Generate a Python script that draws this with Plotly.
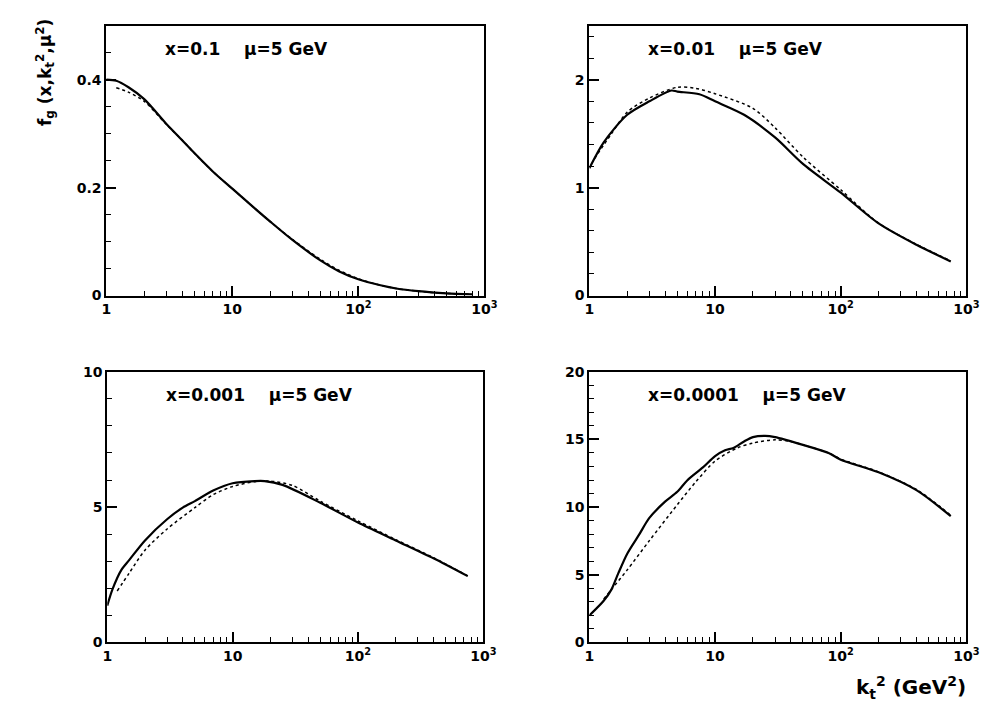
import plotly.graph_objects as go

# ---------------- data ----------------
panel_labels = ["x=0.1", "x=0.01", "x=0.001", "x=0.0001"]
scale_label = "μ=5 GeV"

k1_solid = [1, 1.2, 1.5, 2, 3, 4, 5, 7, 10, 15, 20, 30, 50, 70, 100, 150, 200, 300, 500, 800]
f1_solid = [0.400, 0.398, 0.386, 0.364, 0.318, 0.288, 0.264, 0.230, 0.198, 0.162, 0.137, 0.103, 0.065, 0.045, 0.030, 0.019, 0.013, 0.008, 0.004, 0.002]
k1_dot = [1.2, 1.5, 2, 3, 4, 5, 7, 10, 15, 20, 30, 50, 70, 100, 150, 200, 300, 500, 800]
f1_dot = [0.385, 0.377, 0.360, 0.317, 0.288, 0.264, 0.230, 0.198, 0.162, 0.137, 0.104, 0.067, 0.047, 0.031, 0.019, 0.013, 0.008, 0.004, 0.002]

k2_solid = [1, 1.3, 2, 3, 4.5, 5, 7.5, 10, 17, 30, 50, 100, 200, 400, 750]
f2_solid = [1.18, 1.42, 1.675, 1.80, 1.90, 1.89, 1.865, 1.80, 1.675, 1.465, 1.22, 0.953, 0.668, 0.47, 0.316]
k2_dot = [1.1, 1.5, 2, 3, 5, 7, 10, 20, 30, 50, 100, 200, 400, 750]
f2_dot = [1.27, 1.50, 1.70, 1.83, 1.93, 1.92, 1.87, 1.735, 1.555, 1.284, 0.98, 0.67, 0.475, 0.32]

k3_solid = [1, 1.1, 1.3, 1.5, 2, 3, 4, 5, 7, 10, 15, 18, 25, 50, 100, 200, 400, 750]
f3_solid = [1.36, 1.96, 2.69, 3.05, 3.77, 4.55, 4.98, 5.22, 5.61, 5.88, 5.96, 5.96, 5.82, 5.16, 4.43, 3.77, 3.11, 2.45]
k3_dot = [1.2, 1.5, 2, 3, 5, 7, 10, 15, 20, 30, 50, 100, 200, 400, 750]
f3_dot = [1.90, 2.57, 3.41, 4.19, 4.98, 5.46, 5.76, 5.94, 5.96, 5.80, 5.22, 4.49, 3.80, 3.13, 2.46]

k4_solid = [1, 1.3, 1.5, 1.7, 2, 2.5, 3, 4, 5, 6, 8, 10, 12, 14, 17, 20, 25, 30, 50, 80, 100, 200, 400, 750]
f4_solid = [2.0, 3.08, 3.92, 5.12, 6.56, 8.0, 9.2, 10.4, 11.13, 11.97, 12.93, 13.77, 14.2, 14.37, 14.85, 15.17, 15.26, 15.17, 14.6, 14.0, 13.5, 12.57, 11.25, 9.33]
k4_dot = [1.3, 1.5, 2, 3, 5, 7, 10, 15, 20, 30, 40, 50, 80, 100, 200, 400, 750]
f4_dot = [3.2, 3.92, 5.36, 7.52, 10.17, 11.85, 13.4, 14.37, 14.73, 14.97, 14.85, 14.6, 14.0, 13.55, 12.6, 11.3, 9.4]

y_ranges = [[0, 0.5], [0, 2.5], [0, 10], [0, 20]]
y_ticks = [[0, 0.2, 0.4], [0, 1, 2], [0, 5, 10], [0, 5, 10, 15, 20]]
y_ticktext = [["0", "0.2", "0.4"], ["0", "1", "2"], ["0", "5", "10"], ["0", "5", "10", "15", "20"]]
y_minor = [0.05, 0.2, 1, 1]
x_ticks = [1, 10, 100, 1000]
x_ticktext = ["1", "10", "10<sup>2</sup>", "10<sup>3</sup>"]

# ---------------- layout geometry ----------------
W, H = 996, 705
boxes = [  # left, right, top, bottom in px
    (95, 480, 10, 286),
    (587, 971, 10, 286),
    (96, 479, 364, 641),
    (587, 971, 364, 641),
]

FONT = "DejaVu Sans"
fig = go.Figure()

solids = [(k1_solid, f1_solid), (k2_solid, f2_solid), (k3_solid, f3_solid), (k4_solid, f4_solid)]
dots = [(k1_dot, f1_dot), (k2_dot, f2_dot), (k3_dot, f3_dot), (k4_dot, f4_dot)]

layout = dict(
    width=W, height=H, margin=dict(l=0, r=0, t=0, b=0),
    paper_bgcolor="white", plot_bgcolor="white", showlegend=False,
    font=dict(family=FONT, color="black"),
)
annotations = []
for i in range(4):
    xa = "x" if i == 0 else f"x{i+1}"
    ya = "y" if i == 0 else f"y{i+1}"
    xs, ys = solids[i]
    xd, yd = dots[i]
    fig.add_trace(go.Scatter(x=xs, y=ys, mode="lines", line=dict(color="black", width=2.2, shape="spline", smoothing=0.8),
                             xaxis=xa, yaxis=ya))
    fig.add_trace(go.Scatter(x=xd, y=yd, mode="lines", line=dict(color="black", width=1.5, dash="dot", shape="spline", smoothing=0.8),
                             xaxis=xa, yaxis=ya))
    l, r, t, b = boxes[i]
    xkey = "xaxis" if i == 0 else f"xaxis{i+1}"
    ykey = "yaxis" if i == 0 else f"yaxis{i+1}"
    layout[xkey] = dict(
        type="log", range=[0, 3], domain=[l / W, r / W], anchor=ya,
        tickvals=x_ticks, ticktext=x_ticktext, ticks="inside", ticklen=10, tickwidth=1.5,
        tickcolor="black", showline=True, linecolor="black", linewidth=2, mirror=True,
        showgrid=False, zeroline=False,
        tickfont=dict(family=FONT, size=14, weight="bold", color="black"),
        minor=dict(ticks="inside", ticklen=5, tickwidth=1.2, tickcolor="black", dtick="D1", showgrid=False),
    )
    layout[ykey] = dict(
        range=y_ranges[i], domain=[1 - b / H, 1 - t / H], anchor=xa,
        tickvals=y_ticks[i], ticktext=y_ticktext[i], ticks="inside", ticklen=10, tickwidth=1.5,
        tickcolor="black", showline=True, linecolor="black", linewidth=2, mirror=True,
        showgrid=False, zeroline=False,
        tickfont=dict(family=FONT, size=14, weight="bold", color="black"),
        minor=dict(ticks="inside", ticklen=5, tickwidth=1.2, tickcolor="black", dtick=y_minor[i], showgrid=False),
    )
    annotations.append(dict(
        text=panel_labels[i] + "\u00a0\u00a0\u00a0\u00a0" + scale_label,
        xref="paper", yref="paper",
        x=(l + 58) / W, y=1 - (t + 24) / H, xanchor="left", yanchor="middle",
        showarrow=False, font=dict(family=FONT, size=17, weight="bold", color="black"),
    ))

annotations.append(dict(
    text="f<sub>g</sub> (x,k<sub>t</sub><sup>2</sup>,μ<sup>2</sup>)",
    xref="paper", yref="paper", x=33 / W, y=1 - 58 / H, xanchor="center", yanchor="middle",
    textangle=-90, showarrow=False, font=dict(family=FONT, size=17, weight="bold", color="black"),
))
annotations.append(dict(
    text="k<sub>t</sub><sup>2</sup> (GeV<sup>2</sup>)",
    xref="paper", yref="paper", x=973 / W, y=1 - 687 / H, xanchor="right", yanchor="middle",
    showarrow=False, font=dict(family=FONT, size=20, weight="bold", color="black"),
))
layout["annotations"] = annotations
fig.update_layout(**layout)
fig.write_html("out.html")
